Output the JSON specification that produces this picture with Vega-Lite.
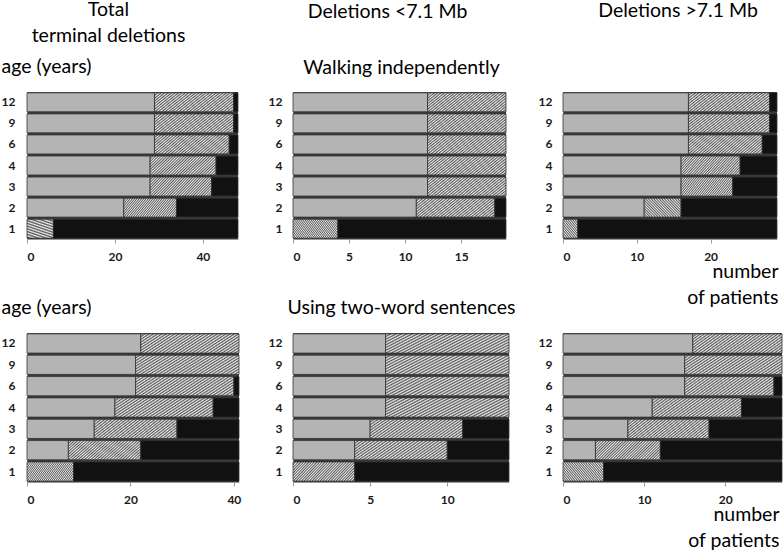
{
 "$schema": "https://vega.github.io/schema/vega-lite/v6.json",
 "background": "white",
 "padding": {"left": 1, "top": -1, "right": 0, "bottom": 0},
 "datasets": {
  "walkTotal": [
   {"age":12,"status":"A","n":29},{"age":12,"status":"B","n":18},{"age":12,"status":"C","n":1},
   {"age":9,"status":"A","n":29},{"age":9,"status":"B","n":18},{"age":9,"status":"C","n":1},
   {"age":6,"status":"A","n":29},{"age":6,"status":"B","n":17},{"age":6,"status":"C","n":2},
   {"age":4,"status":"A","n":28},{"age":4,"status":"B","n":15},{"age":4,"status":"C","n":5},
   {"age":3,"status":"A","n":28},{"age":3,"status":"B","n":14},{"age":3,"status":"C","n":6},
   {"age":2,"status":"A","n":22},{"age":2,"status":"B","n":12},{"age":2,"status":"C","n":14},
   {"age":1,"status":"B","n":6},{"age":1,"status":"C","n":42}
  ],
  "walkSmall": [
   {"age":12,"status":"A","n":12},{"age":12,"status":"B","n":7},
   {"age":9,"status":"A","n":12},{"age":9,"status":"B","n":7},
   {"age":6,"status":"A","n":12},{"age":6,"status":"B","n":7},
   {"age":4,"status":"A","n":12},{"age":4,"status":"B","n":7},
   {"age":3,"status":"A","n":12},{"age":3,"status":"B","n":7},
   {"age":2,"status":"A","n":11},{"age":2,"status":"B","n":7},{"age":2,"status":"C","n":1},
   {"age":1,"status":"B","n":4},{"age":1,"status":"C","n":15}
  ],
  "walkLarge": [
   {"age":12,"status":"A","n":17},{"age":12,"status":"B","n":11},{"age":12,"status":"C","n":1},
   {"age":9,"status":"A","n":17},{"age":9,"status":"B","n":11},{"age":9,"status":"C","n":1},
   {"age":6,"status":"A","n":17},{"age":6,"status":"B","n":10},{"age":6,"status":"C","n":2},
   {"age":4,"status":"A","n":16},{"age":4,"status":"B","n":8},{"age":4,"status":"C","n":5},
   {"age":3,"status":"A","n":16},{"age":3,"status":"B","n":7},{"age":3,"status":"C","n":6},
   {"age":2,"status":"A","n":11},{"age":2,"status":"B","n":5},{"age":2,"status":"C","n":13},
   {"age":1,"status":"B","n":2},{"age":1,"status":"C","n":27}
  ],
  "talkTotal": [
   {"age":12,"status":"A","n":22},{"age":12,"status":"B","n":19},
   {"age":9,"status":"A","n":21},{"age":9,"status":"B","n":20},
   {"age":6,"status":"A","n":21},{"age":6,"status":"B","n":19},{"age":6,"status":"C","n":1},
   {"age":4,"status":"A","n":17},{"age":4,"status":"B","n":19},{"age":4,"status":"C","n":5},
   {"age":3,"status":"A","n":13},{"age":3,"status":"B","n":16},{"age":3,"status":"C","n":12},
   {"age":2,"status":"A","n":8},{"age":2,"status":"B","n":14},{"age":2,"status":"C","n":19},
   {"age":1,"status":"B","n":9},{"age":1,"status":"C","n":32}
  ],
  "talkSmall": [
   {"age":12,"status":"A","n":6},{"age":12,"status":"B","n":8},
   {"age":9,"status":"A","n":6},{"age":9,"status":"B","n":8},
   {"age":6,"status":"A","n":6},{"age":6,"status":"B","n":8},
   {"age":4,"status":"A","n":6},{"age":4,"status":"B","n":8},
   {"age":3,"status":"A","n":5},{"age":3,"status":"B","n":6},{"age":3,"status":"C","n":3},
   {"age":2,"status":"A","n":4},{"age":2,"status":"B","n":6},{"age":2,"status":"C","n":4},
   {"age":1,"status":"B","n":4},{"age":1,"status":"C","n":10}
  ],
  "talkLarge": [
   {"age":12,"status":"A","n":16},{"age":12,"status":"B","n":11},
   {"age":9,"status":"A","n":15},{"age":9,"status":"B","n":12},
   {"age":6,"status":"A","n":15},{"age":6,"status":"B","n":11},{"age":6,"status":"C","n":1},
   {"age":4,"status":"A","n":11},{"age":4,"status":"B","n":11},{"age":4,"status":"C","n":5},
   {"age":3,"status":"A","n":8},{"age":3,"status":"B","n":10},{"age":3,"status":"C","n":9},
   {"age":2,"status":"A","n":4},{"age":2,"status":"B","n":8},{"age":2,"status":"C","n":15},
   {"age":1,"status":"B","n":5},{"age":1,"status":"C","n":22}
  ]
 },
 "columns": 3,
 "spacing": {"row": 94, "column": 54},
 "bounds": "flush",
 "concat": [
    {
     "width": 211, "height": 147,
     "data": {"name": "walkTotal"},
     "title": {"text": ["Total", "terminal deletions"], "lineHeight": 26, "dx": -24, "offset": 10},
     "mark": {"type": "bar", "stroke": "#333333", "strokeWidth": 0.8},
     "encoding": {
      "y": {"field": "age", "type": "ordinal", "sort": "descending", "scale": {"paddingInner": 0.1, "paddingOuter": 0.04},
            "axis": {"title": "age (years)", "titleAngle": 0, "titleAlign": "left", "titleBaseline": "alphabetic", "titleX": -26, "titleY": -20, "labelPadding": 12}},
      "x": {"field": "n", "type": "quantitative", "stack": true, "scale": {"domain": [0, 48], "nice": false}, "axis": {"title": null, "values": [0, 20, 40]}},
      "fill": {"field": "status", "type": "nominal", "legend": null,
               "scale": {"domain": ["A", "B", "C"], "range": ["#b4b4b4", "#9c9c9c", "#111111"]},
               "condition": {"test": "datum.status === 'B'", "value": {"gradient": "linear", "x1": 0, "y1": 0, "x2": 1.193, "y2": 0.358, "stops": [{"offset":0,"color":"#555"},{"offset":0.0167,"color":"#eee"},{"offset":0.0333,"color":"#555"},{"offset":0.05,"color":"#eee"},{"offset":0.0667,"color":"#555"},{"offset":0.0833,"color":"#eee"},{"offset":0.1,"color":"#555"},{"offset":0.1167,"color":"#eee"},{"offset":0.1333,"color":"#555"},{"offset":0.15,"color":"#eee"},{"offset":0.1667,"color":"#555"},{"offset":0.1833,"color":"#eee"},{"offset":0.2,"color":"#555"},{"offset":0.2167,"color":"#eee"},{"offset":0.2333,"color":"#555"},{"offset":0.25,"color":"#eee"},{"offset":0.2667,"color":"#555"},{"offset":0.2833,"color":"#eee"},{"offset":0.3,"color":"#555"},{"offset":0.3167,"color":"#eee"},{"offset":0.3333,"color":"#555"},{"offset":0.35,"color":"#eee"},{"offset":0.3667,"color":"#555"},{"offset":0.3833,"color":"#eee"},{"offset":0.4,"color":"#555"},{"offset":0.4167,"color":"#eee"},{"offset":0.4333,"color":"#555"},{"offset":0.45,"color":"#eee"},{"offset":0.4667,"color":"#555"},{"offset":0.4833,"color":"#eee"},{"offset":0.5,"color":"#555"},{"offset":0.5167,"color":"#eee"},{"offset":0.5333,"color":"#555"},{"offset":0.55,"color":"#eee"},{"offset":0.5667,"color":"#555"},{"offset":0.5833,"color":"#eee"},{"offset":0.6,"color":"#555"},{"offset":0.6167,"color":"#eee"},{"offset":0.6333,"color":"#555"},{"offset":0.65,"color":"#eee"},{"offset":0.6667,"color":"#555"},{"offset":0.6833,"color":"#eee"},{"offset":0.7,"color":"#555"},{"offset":0.7167,"color":"#eee"},{"offset":0.7333,"color":"#555"},{"offset":0.75,"color":"#eee"},{"offset":0.7667,"color":"#555"},{"offset":0.7833,"color":"#eee"},{"offset":0.8,"color":"#555"},{"offset":0.8167,"color":"#eee"},{"offset":0.8333,"color":"#555"},{"offset":0.85,"color":"#eee"},{"offset":0.8667,"color":"#555"},{"offset":0.8833,"color":"#eee"},{"offset":0.9,"color":"#555"},{"offset":0.9167,"color":"#eee"},{"offset":0.9333,"color":"#555"},{"offset":0.95,"color":"#eee"},{"offset":0.9667,"color":"#555"},{"offset":0.9833,"color":"#eee"},{"offset":1,"color":"#555"}]}}}
     }
    },
    {
     "width": 213, "height": 147,
     "data": {"name": "walkSmall"},
     "title": {"text": "Deletions <7.1 Mb", "dx": -12, "offset": 35},
     "mark": {"type": "bar", "stroke": "#333333", "strokeWidth": 0.8},
     "encoding": {
      "y": {"field": "age", "type": "ordinal", "sort": "descending", "scale": {"paddingInner": 0.1, "paddingOuter": 0.04},
            "axis": {"title": "Walking independently", "titleAngle": 0, "titleAlign": "center", "titleBaseline": "alphabetic", "titleX": 108, "titleY": -19, "labelPadding": 11}},
      "x": {"field": "n", "type": "quantitative", "stack": true, "scale": {"domain": [0, 19], "nice": false}, "axis": {"title": null, "values": [0, 5, 10, 15]}},
      "fill": {"field": "status", "type": "nominal", "legend": null,
               "scale": {"domain": ["A", "B", "C"], "range": ["#b4b4b4", "#9c9c9c", "#111111"]},
               "condition": {"test": "datum.status === 'B'", "value": {"gradient": "linear", "x1": 0, "y1": 0, "x2": 1.193, "y2": 0.358, "stops": [{"offset":0,"color":"#555"},{"offset":0.0167,"color":"#eee"},{"offset":0.0333,"color":"#555"},{"offset":0.05,"color":"#eee"},{"offset":0.0667,"color":"#555"},{"offset":0.0833,"color":"#eee"},{"offset":0.1,"color":"#555"},{"offset":0.1167,"color":"#eee"},{"offset":0.1333,"color":"#555"},{"offset":0.15,"color":"#eee"},{"offset":0.1667,"color":"#555"},{"offset":0.1833,"color":"#eee"},{"offset":0.2,"color":"#555"},{"offset":0.2167,"color":"#eee"},{"offset":0.2333,"color":"#555"},{"offset":0.25,"color":"#eee"},{"offset":0.2667,"color":"#555"},{"offset":0.2833,"color":"#eee"},{"offset":0.3,"color":"#555"},{"offset":0.3167,"color":"#eee"},{"offset":0.3333,"color":"#555"},{"offset":0.35,"color":"#eee"},{"offset":0.3667,"color":"#555"},{"offset":0.3833,"color":"#eee"},{"offset":0.4,"color":"#555"},{"offset":0.4167,"color":"#eee"},{"offset":0.4333,"color":"#555"},{"offset":0.45,"color":"#eee"},{"offset":0.4667,"color":"#555"},{"offset":0.4833,"color":"#eee"},{"offset":0.5,"color":"#555"},{"offset":0.5167,"color":"#eee"},{"offset":0.5333,"color":"#555"},{"offset":0.55,"color":"#eee"},{"offset":0.5667,"color":"#555"},{"offset":0.5833,"color":"#eee"},{"offset":0.6,"color":"#555"},{"offset":0.6167,"color":"#eee"},{"offset":0.6333,"color":"#555"},{"offset":0.65,"color":"#eee"},{"offset":0.6667,"color":"#555"},{"offset":0.6833,"color":"#eee"},{"offset":0.7,"color":"#555"},{"offset":0.7167,"color":"#eee"},{"offset":0.7333,"color":"#555"},{"offset":0.75,"color":"#eee"},{"offset":0.7667,"color":"#555"},{"offset":0.7833,"color":"#eee"},{"offset":0.8,"color":"#555"},{"offset":0.8167,"color":"#eee"},{"offset":0.8333,"color":"#555"},{"offset":0.85,"color":"#eee"},{"offset":0.8667,"color":"#555"},{"offset":0.8833,"color":"#eee"},{"offset":0.9,"color":"#555"},{"offset":0.9167,"color":"#eee"},{"offset":0.9333,"color":"#555"},{"offset":0.95,"color":"#eee"},{"offset":0.9667,"color":"#555"},{"offset":0.9833,"color":"#eee"},{"offset":1,"color":"#555"}]}}}
     }
    },
    {
     "width": 214, "height": 147,
     "data": {"name": "walkLarge"},
     "title": {"text": "Deletions >7.1 Mb", "dx": 8, "offset": 71},
     "mark": {"type": "bar", "stroke": "#333333", "strokeWidth": 0.8},
     "encoding": {
      "y": {"field": "age", "type": "ordinal", "sort": "descending", "scale": {"paddingInner": 0.1, "paddingOuter": 0.04},
            "axis": {"title": null, "labelPadding": 11}},
      "x": {"field": "n", "type": "quantitative", "stack": true, "scale": {"domain": [0, 29], "nice": false},
            "axis": {"title": ["number", "of patients"], "titleAlign": "right", "titleAnchor": "end", "titleX": 215, "titleY": 38, "titleBaseline": "alphabetic", "titleLineHeight": 26, "values": [0, 10, 20]}},
      "fill": {"field": "status", "type": "nominal", "legend": null,
               "scale": {"domain": ["A", "B", "C"], "range": ["#b4b4b4", "#9c9c9c", "#111111"]},
               "condition": {"test": "datum.status === 'B'", "value": {"gradient": "linear", "x1": 0, "y1": 0, "x2": 1.193, "y2": 0.358, "stops": [{"offset":0,"color":"#555"},{"offset":0.0167,"color":"#eee"},{"offset":0.0333,"color":"#555"},{"offset":0.05,"color":"#eee"},{"offset":0.0667,"color":"#555"},{"offset":0.0833,"color":"#eee"},{"offset":0.1,"color":"#555"},{"offset":0.1167,"color":"#eee"},{"offset":0.1333,"color":"#555"},{"offset":0.15,"color":"#eee"},{"offset":0.1667,"color":"#555"},{"offset":0.1833,"color":"#eee"},{"offset":0.2,"color":"#555"},{"offset":0.2167,"color":"#eee"},{"offset":0.2333,"color":"#555"},{"offset":0.25,"color":"#eee"},{"offset":0.2667,"color":"#555"},{"offset":0.2833,"color":"#eee"},{"offset":0.3,"color":"#555"},{"offset":0.3167,"color":"#eee"},{"offset":0.3333,"color":"#555"},{"offset":0.35,"color":"#eee"},{"offset":0.3667,"color":"#555"},{"offset":0.3833,"color":"#eee"},{"offset":0.4,"color":"#555"},{"offset":0.4167,"color":"#eee"},{"offset":0.4333,"color":"#555"},{"offset":0.45,"color":"#eee"},{"offset":0.4667,"color":"#555"},{"offset":0.4833,"color":"#eee"},{"offset":0.5,"color":"#555"},{"offset":0.5167,"color":"#eee"},{"offset":0.5333,"color":"#555"},{"offset":0.55,"color":"#eee"},{"offset":0.5667,"color":"#555"},{"offset":0.5833,"color":"#eee"},{"offset":0.6,"color":"#555"},{"offset":0.6167,"color":"#eee"},{"offset":0.6333,"color":"#555"},{"offset":0.65,"color":"#eee"},{"offset":0.6667,"color":"#555"},{"offset":0.6833,"color":"#eee"},{"offset":0.7,"color":"#555"},{"offset":0.7167,"color":"#eee"},{"offset":0.7333,"color":"#555"},{"offset":0.75,"color":"#eee"},{"offset":0.7667,"color":"#555"},{"offset":0.7833,"color":"#eee"},{"offset":0.8,"color":"#555"},{"offset":0.8167,"color":"#eee"},{"offset":0.8333,"color":"#555"},{"offset":0.85,"color":"#eee"},{"offset":0.8667,"color":"#555"},{"offset":0.8833,"color":"#eee"},{"offset":0.9,"color":"#555"},{"offset":0.9167,"color":"#eee"},{"offset":0.9333,"color":"#555"},{"offset":0.95,"color":"#eee"},{"offset":0.9667,"color":"#555"},{"offset":0.9833,"color":"#eee"},{"offset":1,"color":"#555"}]}}}
     }
    },
    {
     "width": 212, "height": 149,
     "data": {"name": "talkTotal"},
     "mark": {"type": "bar", "stroke": "#333333", "strokeWidth": 0.8},
     "encoding": {
      "y": {"field": "age", "type": "ordinal", "sort": "descending", "scale": {"paddingInner": 0.1, "paddingOuter": 0.04},
            "axis": {"title": "age (years)", "titleAngle": 0, "titleAlign": "left", "titleBaseline": "alphabetic", "titleX": -26, "titleY": -20, "labelPadding": 12}},
      "x": {"field": "n", "type": "quantitative", "stack": true, "scale": {"domain": [0, 41], "nice": false}, "axis": {"title": null, "values": [0, 20, 40]}},
      "fill": {"field": "status", "type": "nominal", "legend": null,
               "scale": {"domain": ["A", "B", "C"], "range": ["#b4b4b4", "#9c9c9c", "#111111"]},
               "condition": {"test": "datum.status === 'B'", "value": {"gradient": "linear", "x1": 0, "y1": 0, "x2": 1.193, "y2": 0.358, "stops": [{"offset":0,"color":"#555"},{"offset":0.0167,"color":"#eee"},{"offset":0.0333,"color":"#555"},{"offset":0.05,"color":"#eee"},{"offset":0.0667,"color":"#555"},{"offset":0.0833,"color":"#eee"},{"offset":0.1,"color":"#555"},{"offset":0.1167,"color":"#eee"},{"offset":0.1333,"color":"#555"},{"offset":0.15,"color":"#eee"},{"offset":0.1667,"color":"#555"},{"offset":0.1833,"color":"#eee"},{"offset":0.2,"color":"#555"},{"offset":0.2167,"color":"#eee"},{"offset":0.2333,"color":"#555"},{"offset":0.25,"color":"#eee"},{"offset":0.2667,"color":"#555"},{"offset":0.2833,"color":"#eee"},{"offset":0.3,"color":"#555"},{"offset":0.3167,"color":"#eee"},{"offset":0.3333,"color":"#555"},{"offset":0.35,"color":"#eee"},{"offset":0.3667,"color":"#555"},{"offset":0.3833,"color":"#eee"},{"offset":0.4,"color":"#555"},{"offset":0.4167,"color":"#eee"},{"offset":0.4333,"color":"#555"},{"offset":0.45,"color":"#eee"},{"offset":0.4667,"color":"#555"},{"offset":0.4833,"color":"#eee"},{"offset":0.5,"color":"#555"},{"offset":0.5167,"color":"#eee"},{"offset":0.5333,"color":"#555"},{"offset":0.55,"color":"#eee"},{"offset":0.5667,"color":"#555"},{"offset":0.5833,"color":"#eee"},{"offset":0.6,"color":"#555"},{"offset":0.6167,"color":"#eee"},{"offset":0.6333,"color":"#555"},{"offset":0.65,"color":"#eee"},{"offset":0.6667,"color":"#555"},{"offset":0.6833,"color":"#eee"},{"offset":0.7,"color":"#555"},{"offset":0.7167,"color":"#eee"},{"offset":0.7333,"color":"#555"},{"offset":0.75,"color":"#eee"},{"offset":0.7667,"color":"#555"},{"offset":0.7833,"color":"#eee"},{"offset":0.8,"color":"#555"},{"offset":0.8167,"color":"#eee"},{"offset":0.8333,"color":"#555"},{"offset":0.85,"color":"#eee"},{"offset":0.8667,"color":"#555"},{"offset":0.8833,"color":"#eee"},{"offset":0.9,"color":"#555"},{"offset":0.9167,"color":"#eee"},{"offset":0.9333,"color":"#555"},{"offset":0.95,"color":"#eee"},{"offset":0.9667,"color":"#555"},{"offset":0.9833,"color":"#eee"},{"offset":1,"color":"#555"}]}}}
     }
    },
    {
     "width": 216, "height": 149,
     "data": {"name": "talkSmall"},
     "mark": {"type": "bar", "stroke": "#333333", "strokeWidth": 0.8},
     "encoding": {
      "y": {"field": "age", "type": "ordinal", "sort": "descending", "scale": {"paddingInner": 0.1, "paddingOuter": 0.04},
            "axis": {"title": "Using two-word sentences", "titleAngle": 0, "titleAlign": "center", "titleBaseline": "alphabetic", "titleX": 108, "titleY": -20, "labelPadding": 11}},
      "x": {"field": "n", "type": "quantitative", "stack": true, "scale": {"domain": [0, 14], "nice": false}, "axis": {"title": null, "values": [0, 5, 10]}},
      "fill": {"field": "status", "type": "nominal", "legend": null,
               "scale": {"domain": ["A", "B", "C"], "range": ["#b4b4b4", "#9c9c9c", "#111111"]},
               "condition": {"test": "datum.status === 'B'", "value": {"gradient": "linear", "x1": 0, "y1": 0, "x2": 1.193, "y2": 0.358, "stops": [{"offset":0,"color":"#555"},{"offset":0.0167,"color":"#eee"},{"offset":0.0333,"color":"#555"},{"offset":0.05,"color":"#eee"},{"offset":0.0667,"color":"#555"},{"offset":0.0833,"color":"#eee"},{"offset":0.1,"color":"#555"},{"offset":0.1167,"color":"#eee"},{"offset":0.1333,"color":"#555"},{"offset":0.15,"color":"#eee"},{"offset":0.1667,"color":"#555"},{"offset":0.1833,"color":"#eee"},{"offset":0.2,"color":"#555"},{"offset":0.2167,"color":"#eee"},{"offset":0.2333,"color":"#555"},{"offset":0.25,"color":"#eee"},{"offset":0.2667,"color":"#555"},{"offset":0.2833,"color":"#eee"},{"offset":0.3,"color":"#555"},{"offset":0.3167,"color":"#eee"},{"offset":0.3333,"color":"#555"},{"offset":0.35,"color":"#eee"},{"offset":0.3667,"color":"#555"},{"offset":0.3833,"color":"#eee"},{"offset":0.4,"color":"#555"},{"offset":0.4167,"color":"#eee"},{"offset":0.4333,"color":"#555"},{"offset":0.45,"color":"#eee"},{"offset":0.4667,"color":"#555"},{"offset":0.4833,"color":"#eee"},{"offset":0.5,"color":"#555"},{"offset":0.5167,"color":"#eee"},{"offset":0.5333,"color":"#555"},{"offset":0.55,"color":"#eee"},{"offset":0.5667,"color":"#555"},{"offset":0.5833,"color":"#eee"},{"offset":0.6,"color":"#555"},{"offset":0.6167,"color":"#eee"},{"offset":0.6333,"color":"#555"},{"offset":0.65,"color":"#eee"},{"offset":0.6667,"color":"#555"},{"offset":0.6833,"color":"#eee"},{"offset":0.7,"color":"#555"},{"offset":0.7167,"color":"#eee"},{"offset":0.7333,"color":"#555"},{"offset":0.75,"color":"#eee"},{"offset":0.7667,"color":"#555"},{"offset":0.7833,"color":"#eee"},{"offset":0.8,"color":"#555"},{"offset":0.8167,"color":"#eee"},{"offset":0.8333,"color":"#555"},{"offset":0.85,"color":"#eee"},{"offset":0.8667,"color":"#555"},{"offset":0.8833,"color":"#eee"},{"offset":0.9,"color":"#555"},{"offset":0.9167,"color":"#eee"},{"offset":0.9333,"color":"#555"},{"offset":0.95,"color":"#eee"},{"offset":0.9667,"color":"#555"},{"offset":0.9833,"color":"#eee"},{"offset":1,"color":"#555"}]}}}
     }
    },
    {
     "width": 219, "height": 149,
     "data": {"name": "talkLarge"},
     "mark": {"type": "bar", "stroke": "#333333", "strokeWidth": 0.8},
     "encoding": {
      "y": {"field": "age", "type": "ordinal", "sort": "descending", "scale": {"paddingInner": 0.1, "paddingOuter": 0.04},
            "axis": {"title": null, "labelPadding": 11}},
      "x": {"field": "n", "type": "quantitative", "stack": true, "scale": {"domain": [0, 27], "nice": false},
            "axis": {"title": ["number", "of patients"], "titleAlign": "right", "titleAnchor": "end", "titleX": 216, "titleY": 38, "titleBaseline": "alphabetic", "titleLineHeight": 26, "values": [0, 10, 20]}},
      "fill": {"field": "status", "type": "nominal", "legend": null,
               "scale": {"domain": ["A", "B", "C"], "range": ["#b4b4b4", "#9c9c9c", "#111111"]},
               "condition": {"test": "datum.status === 'B'", "value": {"gradient": "linear", "x1": 0, "y1": 0, "x2": 1.193, "y2": 0.358, "stops": [{"offset":0,"color":"#555"},{"offset":0.0167,"color":"#eee"},{"offset":0.0333,"color":"#555"},{"offset":0.05,"color":"#eee"},{"offset":0.0667,"color":"#555"},{"offset":0.0833,"color":"#eee"},{"offset":0.1,"color":"#555"},{"offset":0.1167,"color":"#eee"},{"offset":0.1333,"color":"#555"},{"offset":0.15,"color":"#eee"},{"offset":0.1667,"color":"#555"},{"offset":0.1833,"color":"#eee"},{"offset":0.2,"color":"#555"},{"offset":0.2167,"color":"#eee"},{"offset":0.2333,"color":"#555"},{"offset":0.25,"color":"#eee"},{"offset":0.2667,"color":"#555"},{"offset":0.2833,"color":"#eee"},{"offset":0.3,"color":"#555"},{"offset":0.3167,"color":"#eee"},{"offset":0.3333,"color":"#555"},{"offset":0.35,"color":"#eee"},{"offset":0.3667,"color":"#555"},{"offset":0.3833,"color":"#eee"},{"offset":0.4,"color":"#555"},{"offset":0.4167,"color":"#eee"},{"offset":0.4333,"color":"#555"},{"offset":0.45,"color":"#eee"},{"offset":0.4667,"color":"#555"},{"offset":0.4833,"color":"#eee"},{"offset":0.5,"color":"#555"},{"offset":0.5167,"color":"#eee"},{"offset":0.5333,"color":"#555"},{"offset":0.55,"color":"#eee"},{"offset":0.5667,"color":"#555"},{"offset":0.5833,"color":"#eee"},{"offset":0.6,"color":"#555"},{"offset":0.6167,"color":"#eee"},{"offset":0.6333,"color":"#555"},{"offset":0.65,"color":"#eee"},{"offset":0.6667,"color":"#555"},{"offset":0.6833,"color":"#eee"},{"offset":0.7,"color":"#555"},{"offset":0.7167,"color":"#eee"},{"offset":0.7333,"color":"#555"},{"offset":0.75,"color":"#eee"},{"offset":0.7667,"color":"#555"},{"offset":0.7833,"color":"#eee"},{"offset":0.8,"color":"#555"},{"offset":0.8167,"color":"#eee"},{"offset":0.8333,"color":"#555"},{"offset":0.85,"color":"#eee"},{"offset":0.8667,"color":"#555"},{"offset":0.8833,"color":"#eee"},{"offset":0.9,"color":"#555"},{"offset":0.9167,"color":"#eee"},{"offset":0.9333,"color":"#555"},{"offset":0.95,"color":"#eee"},{"offset":0.9667,"color":"#555"},{"offset":0.9833,"color":"#eee"},{"offset":1,"color":"#555"}]}}}
     }
    }
 ],
 "config": {
  "font": "Lato",
  "view": {"stroke": null, "fill": "#3a3a3a"},
  "axis": {"grid": false, "labelFont": "Lato", "labelFontWeight": "bold", "labelFontSize": 12, "labelColor": "#1a1a1a", "titleFont": "Lato", "titleFontWeight": "normal", "titleFontSize": 19.5, "titleColor": "#000000"},
  "axisX": {"domainColor": "#999999", "tickColor": "#999999", "tickSize": 4, "labelPadding": 8},
  "axisY": {"ticks": false, "domainColor": "#888888"},
  "title": {"font": "Lato", "fontSize": 19.5, "fontWeight": "normal", "color": "#000000", "frame": "group", "anchor": "middle"}
 }
}
